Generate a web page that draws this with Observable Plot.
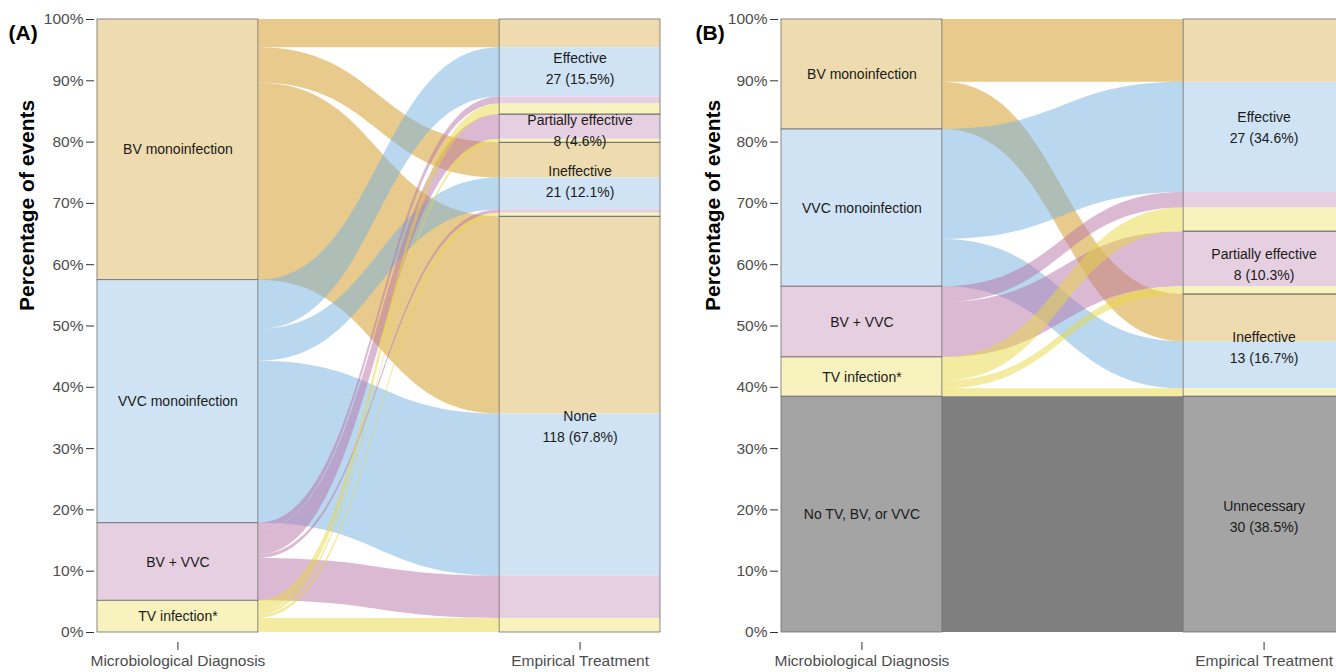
<!DOCTYPE html>
<html>
<head>
<meta charset="utf-8">
<script src="https://cdn.jsdelivr.net/npm/d3@7"></script>
<script src="https://cdn.jsdelivr.net/npm/@observablehq/plot@0.6"></script>
<style>
html,body{margin:0;padding:0;background:#fff;}
#wrap{position:relative;width:1336px;height:672px;overflow:hidden;background:#fff;}
.panel{position:absolute;top:0;width:680px;height:672px;}
.panel svg{max-width:none !important;}
</style>
</head>
<body>
<div id="wrap">
  <div class="panel" id="pa" style="left:0px"></div>
  <div class="panel" id="pb" style="left:680px"></div>
</div>
<script>
// ---------- data ----------
const axisNames = ["Microbiological Diagnosis", "Empirical Treatment"];
const yTicks = [0, 10, 20, 30, 40, 50, 60, 70, 80, 90, 100];

// Panel A
const diagnosesA = ["BV monoinfection", "VVC monoinfection", "BV + VVC", "TV infection*"];
const treatmentsA = ["Effective", "Partially effective", "Ineffective", "None"];
// rows: diagnosis, columns: treatment (number of events)
const countsA = [
  [8, 0, 10, 56],
  [14, 0, 9, 46],
  [2, 7, 1, 12],
  [3, 1, 1, 4]
];

// Panel B
const diagnosesB = ["BV monoinfection", "VVC monoinfection", "BV + VVC", "TV infection*", "No TV, BV, or VVC"];
const treatmentsB = ["Effective", "Partially effective", "Ineffective", "Unnecessary"];
const countsB = [
  [8, 0, 6, 0],
  [14, 0, 6, 0],
  [2, 7, 0, 0],
  [3, 1, 1, 0],
  [0, 0, 0, 30]
];

// ---------- styles ----------
const baseColors = {
  "BV monoinfection": "#D19719",
  "VVC monoinfection": "#75AFE1",
  "BV + VVC": "#B773A5",
  "TV infection*": "#E7D741",
  "No TV, BV, or VVC": "#000000"
};
const lightColors = {
  "BV monoinfection": "#EEDCB0",
  "VVC monoinfection": "#CFE3F4",
  "BV + VVC": "#E6CFE0",
  "TV infection*": "#F7F2BE",
  "No TV, BV, or VVC": "#A4A4A4"
};
const FONT = '"Liberation Sans", Arial, Helvetica, sans-serif';
const HW = 0.2; // half width of a stratum in x units

function buildPanel({el, tag, diagnoses, treatments, counts, marginLeft, width, tagDx, titleDx}) {
  const N = d3.sum(counts.flat());
  const pct = v => v / N * 100;

  let top = 100;
  const leftStrata = diagnoses.map((name, i) => {
    const n = d3.sum(counts[i]);
    const s = {name, n, y2: top, y1: top - pct(n)};
    top -= pct(n);
    return s;
  });
  top = 100;
  const rightStrata = treatments.map((name, j) => {
    const n = d3.sum(counts, r => r[j]);
    const s = {name, n, y2: top, y1: top - pct(n)};
    top -= pct(n);
    return s;
  });

  const lodes = [];
  diagnoses.forEach((d, i) => {
    let t = leftStrata[i].y2;
    treatments.forEach((tr, j) => {
      const c = counts[i][j];
      if (!c) return;
      lodes.push({i, j, c, src: d, srcTop: t, srcBot: t - pct(c)});
      t -= pct(c);
    });
  });
  treatments.forEach((tr, j) => {
    let t = rightStrata[j].y2;
    diagnoses.forEach((d, i) => {
      const c = counts[i][j];
      if (!c) return;
      const l = lodes.find(l => l.i === i && l.j === j);
      l.dstTop = t;
      l.dstBot = t - pct(c);
      t -= pct(c);
    });
  });

  const flowPts = lodes.flatMap((l, k) => [
    {id: k, src: l.src, x: 1 + HW, y1: l.srcBot, y2: l.srcTop},
    {id: k, src: l.src, x: 2 - HW, y1: l.dstBot, y2: l.dstTop}
  ]);

  const plotWidth = 563;
  const chart = Plot.plot({
    width,
    height: 672,
    marginLeft,
    marginRight: width - marginLeft - plotWidth,
    marginTop: 19,
    marginBottom: 40,
    x: {domain: [1 - HW, 2 + HW]},
    y: {domain: [0, 100]},
    style: {fontFamily: FONT, background: "transparent", overflow: "visible", maxWidth: "none"},
    marks: [
      Plot.areaY(flowPts, {
        x: "x", y1: "y1", y2: "y2", z: "id",
        fill: d => baseColors[d.src], fillOpacity: 0.5, curve: "bump-x"
      }),
      // right lodes (coloured by diagnosis)
      Plot.rect(lodes, {
        x1: () => 2 - HW, x2: () => 2 + HW, y1: "dstBot", y2: "dstTop",
        fill: d => lightColors[d.src]
      }),
      // left strata
      Plot.rect(leftStrata, {
        x1: () => 1 - HW, x2: () => 1 + HW, y1: "y1", y2: "y2",
        fill: d => lightColors[d.name], stroke: "#6e6e6e", strokeWidth: 0.8
      }),
      // right strata outlines
      Plot.rect(rightStrata, {
        x1: () => 2 - HW, x2: () => 2 + HW, y1: "y1", y2: "y2",
        fill: "none", stroke: "#6e6e6e", strokeWidth: 0.8
      }),
      Plot.text(leftStrata, {
        x: () => 1, y: d => (d.y1 + d.y2) / 2, text: "name",
        fontSize: 14, fill: "#1a1a1a"
      }),
      Plot.text(rightStrata, {
        x: () => 2, y: d => (d.y1 + d.y2) / 2,
        text: d => `${d.name}\n${d.n} (${(d.n / N * 100).toFixed(1)}%)`,
        fontSize: 14, lineHeight: 1.5, fill: "#1a1a1a"
      }),
      Plot.axisY({
        ticks: yTicks, tickFormat: d => d + "%", tickSize: 8, tickPadding: 3, dx: -3,
        fontSize: 15.5, stroke: "#333", fill: "#4d4d4d", label: null
      }),
      Plot.axisX({
        ticks: [1, 2], tickFormat: d => axisNames[d - 1], tickSize: 8, tickPadding: 4, dy: 10,
        fontSize: 15.5, stroke: "#333", fill: "#4d4d4d", label: null
      }),
      Plot.text(["Percentage of events"], {
        frameAnchor: "left", dx: titleDx, dy: -15, rotate: -90,
        fontSize: 21, fontWeight: "bold", fill: "#000"
      }),
      Plot.text([tag], {
        frameAnchor: "top-left", dx: tagDx, dy: 6, textAnchor: "start",
        fontSize: 21, fontWeight: "bold", fill: "#000"
      })
    ]
  });
  document.getElementById(el).appendChild(chart);
}

buildPanel({el: "pa", tag: "(A)", diagnoses: diagnosesA, treatments: treatmentsA, counts: countsA,
  marginLeft: 97, width: 680, tagDx: -89, titleDx: -70});
buildPanel({el: "pb", tag: "(B)", diagnoses: diagnosesB, treatments: treatmentsB, counts: countsB,
  marginLeft: 101, width: 680, tagDx: -86, titleDx: -68});
</script>
</body>
</html>
